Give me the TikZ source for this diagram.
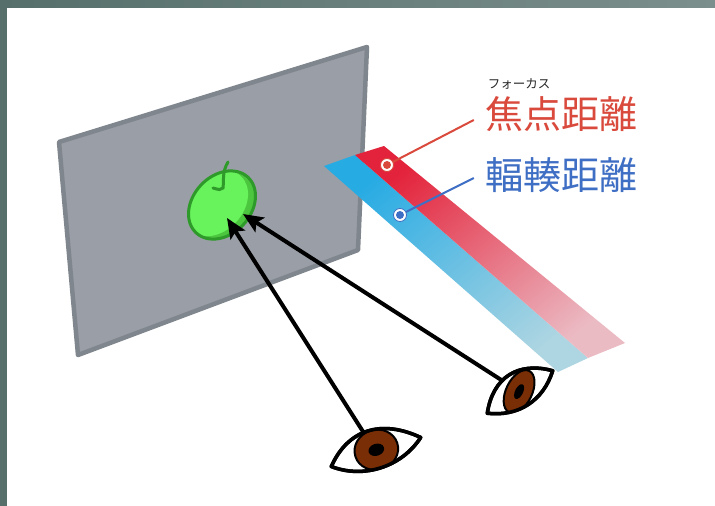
\documentclass[tikz,border=0pt]{standalone}
\usepackage{fontspec}
\newfontfamily\jpfont{Noto Sans CJK JP}
\usetikzlibrary{arrows.meta}

\definecolor{frameL}{HTML}{566F6B}
\definecolor{frameR}{HTML}{7B8F8C}
\definecolor{screenfill}{HTML}{9A9EA6}
\definecolor{screenedge}{HTML}{80868D}
\definecolor{stripeblue}{HTML}{27ABE3}
\definecolor{stripebluelt}{HTML}{ADD5E2}
\definecolor{stripered}{HTML}{E3233B}
\definecolor{striperedlt}{HTML}{EBBBC4}
\definecolor{applelight}{HTML}{68F25C}
\definecolor{applemid}{HTML}{4CC63E}
\definecolor{appledark}{HTML}{2E9A2A}
\definecolor{iris}{HTML}{7A2E06}
\definecolor{labelred}{HTML}{D9493C}
\definecolor{labelblue}{HTML}{3F6FC4}

\begin{document}
\begin{tikzpicture}[x=1pt, y=-1pt]
    \tikzstyle{screen} = [fill=screenfill, draw=screenedge, line width=4.5pt, line join=round]
    \tikzstyle{sight} = [draw=black, line width=4pt, -{Stealth[length=20pt, width=17pt, inset=4pt]}]
    \tikzstyle{eyelid} = [draw=black, line width=3.5pt, fill=white, line join=round]
    \tikzstyle{jp} = [inner sep=0pt, font=\jpfont\fontsize{38}{38}\selectfont]

    \useasboundingbox (0,0) rectangle (715,506);

    % Window frame
    \fill[white] (0,0) rectangle (715,506);
    \shade[left color=frameL, right color=frameR] (0,0) rectangle (715,7);
    \fill[frameL] (0,0) rectangle (7,506);

    % Screen
    \coordinate (s1) at (59,142);
    \coordinate (s2) at (367,47);
    \coordinate (s3) at (358,250);
    \coordinate (s4) at (78,355);
    \draw[screen] (s1) -- (s2) -- (s3) -- (s4) -- cycle;

    % Distance stripes
    \coordinate (b1) at (324,166);
    \coordinate (b2) at (355,155);
    \coordinate (r2) at (384,146);
    \coordinate (b3) at (588,358);
    \coordinate (b4) at (558,372);
    \coordinate (r3) at (625,343);
    \shade[top color=stripeblue, bottom color=stripebluelt, shading angle=40]
        (b1) -- (b2) -- (b3) -- (b4) -- cycle;
    \shade[top color=stripered, bottom color=striperedlt, shading angle=40]
        (b2) -- (r2) -- (r3) -- (b3) -- cycle;

    % Apple
    \begin{scope}[shift={(222,205)}, rotate=47]
        \fill[applemid] (0,0) ellipse [x radius=38pt, y radius=29pt];
        \begin{scope}
            \clip (0,0) ellipse [x radius=38pt, y radius=29pt];
            \fill[applelight] (-3,-6) ellipse [x radius=37pt, y radius=28pt];
        \end{scope}
        \draw[appledark, line width=3pt] (0,0) ellipse [x radius=38pt, y radius=29pt];
    \end{scope}
    \draw[appledark, line width=3pt, line cap=round]
        (228,162) .. controls (222,172) and (224,180) .. (223,188)
        .. controls (220,190) .. (213,188);

    % Lines of sight
    \coordinate (eyeA) at (376,452);
    \coordinate (eyeB) at (520,392);
    \coordinate (tipA) at (227,218);
    \coordinate (tipB) at (243,214);
    \draw[sight] (eyeA) -- (tipA);
    \draw[sight] (eyeB) -- (tipB);

    % Front eye
    \begin{scope}[shift={(eyeA)}, rotate=18]
        \path[eyelid] (-47,0) .. controls (-20,-30) and (15,-30) .. (47,0)
            .. controls (20,22) and (-20,22) .. (-47,0) -- cycle;
        \begin{scope}
            \clip (-47,0) .. controls (-20,-30) and (15,-30) .. (47,0)
                .. controls (20,22) and (-20,22) .. (-47,0) -- cycle;
            \filldraw[fill=iris, draw=black, line width=2pt] (1,-2) ellipse [x radius=22pt, y radius=20pt];
        \end{scope}
        \fill[black] (1,-2) ellipse [x radius=8pt, y radius=6pt];
        \draw[black, line width=3.5pt, line join=round] (-47,0) .. controls (-20,-30) and (15,-30) .. (47,0)
            .. controls (20,22) and (-20,22) .. (-47,0) -- cycle;
    \end{scope}

    % Side eye
    \begin{scope}[shift={(eyeB)}, rotate=33]
        \path[eyelid] (-39,0) .. controls (-15,-27) and (15,-27) .. (39,0)
            .. controls (15,20) and (-15,20) .. (-39,0) -- cycle;
        \begin{scope}
            \clip (-39,0) .. controls (-15,-27) and (15,-27) .. (39,0)
                .. controls (15,20) and (-15,20) .. (-39,0) -- cycle;
            \filldraw[fill=iris, draw=black, line width=2pt, rotate=31] (0,-1) ellipse [x radius=23pt, y radius=13pt];
        \end{scope}
        \fill[black, rotate=31] (0,-1) ellipse [x radius=8pt, y radius=4pt];
        \draw[black, line width=3.5pt, line join=round] (-39,0) .. controls (-15,-27) and (15,-27) .. (39,0)
            .. controls (15,20) and (-15,20) .. (-39,0) -- cycle;
    \end{scope}

    % Labels
    \node[jp, text=labelred] (focus) at (561,114) {焦点距離};
    \node[inner sep=0pt, text=black!85, font=\jpfont\fontsize{12.5}{12.5}\selectfont] (kana) at (519,84) {フォーカス};
    \node[jp, text=labelblue] (conv) at (561,175) {輻輳距離};

    % Leader lines
    \coordinate (dotR) at (387,165);
    \coordinate (dotB) at (400,215);
    \draw[labelred, line width=2pt] (dotR) -- ([shift={(-11,6)}]focus.west);
    \draw[labelblue, line width=2pt] (dotB) -- ([shift={(-11,3)}]conv.west);
    \filldraw[fill=white, draw=labelred, line width=0.8pt] (dotR) circle [radius=6.5pt];
    \fill[labelred] (dotR) circle [radius=4pt];
    \filldraw[fill=white, draw=labelblue, line width=0.8pt] (dotB) circle [radius=6.5pt];
    \fill[labelblue] (dotB) circle [radius=4pt];
\end{tikzpicture}
\end{document}
